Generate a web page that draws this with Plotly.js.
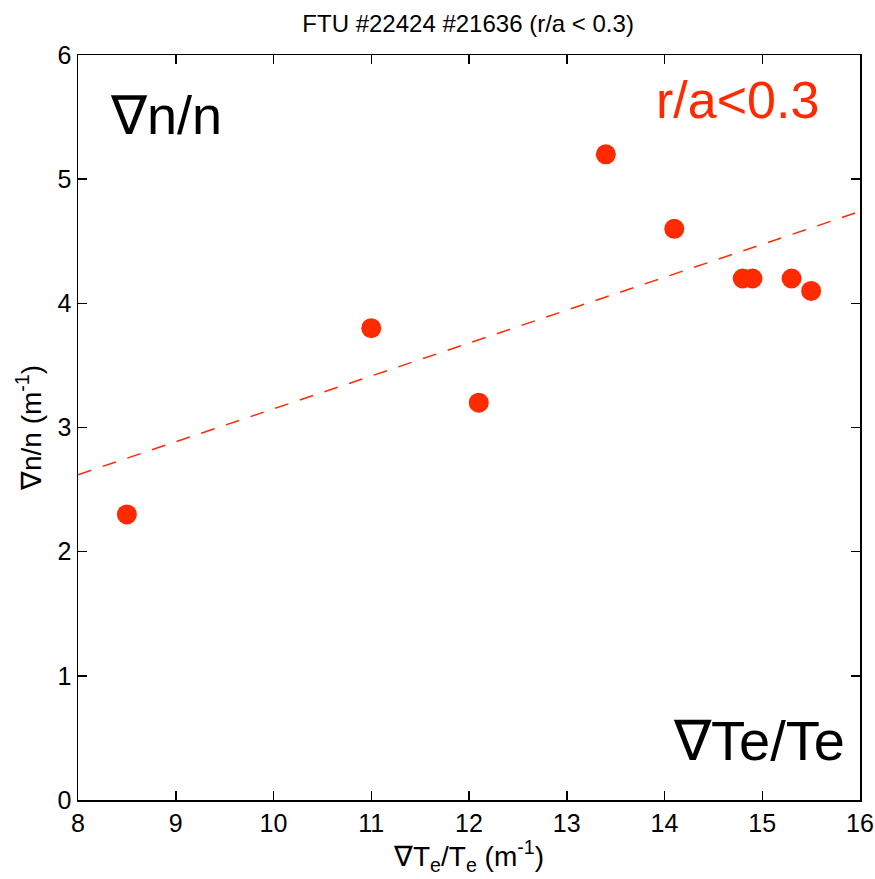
<!DOCTYPE html>
<html>
<head>
<meta charset="utf-8">
<script src="https://cdn.plot.ly/plotly-3.0.1.min.js"></script>
<style>body{margin:0;padding:0;background:#fff;} #chart{width:875px;height:879px;}</style>
</head>
<body>
<div id="chart"></div>
<script>
const gradTe = [8.5, 11, 12.1, 13.4, 14.1, 14.8, 14.9, 15.3, 15.5];
const gradN = [2.3, 3.8, 3.2, 5.2, 4.6, 4.2, 4.2, 4.2, 4.1];
const fitX = [8, 16];
const fitY = [2.62, 4.74];
const xTicks = [8, 9, 10, 11, 12, 13, 14, 15, 16];
const yTicks = [0, 1, 2, 3, 4, 5, 6];
const red = '#ff2a00';
const font = 'Liberation Sans, Arial, sans-serif';

const traces = [
  {x: fitX, y: fitY, mode: 'lines', line: {color: red, width: 1.5, dash: '14px,12px'}, hoverinfo: 'skip', showlegend: false},
  {x: gradTe, y: gradN, mode: 'markers', marker: {color: red, size: 20, line: {width: 0}}, showlegend: false}
];

const axisCommon = {
  showgrid: false, zeroline: false, showline: true, linecolor: '#000', linewidth: 1.5,
  mirror: 'ticks', ticks: 'inside', ticklen: 9, tickwidth: 1.5, tickcolor: '#000',
  tickfont: {family: font, size: 25, color: '#000'}
};

const layout = {
  width: 875, height: 879,
  margin: {l: 78, r: 15, t: 55, b: 79},
  paper_bgcolor: '#fff', plot_bgcolor: '#fff',
  title: {text: 'FTU #22424 #21636 (r/a < 0.3)', font: {family: font, size: 24, color: '#000'}, x: 0.535, xanchor: 'center', y: 0.973, yanchor: 'middle'},
  xaxis: Object.assign({}, axisCommon, {range: [8, 16], tickvals: xTicks, ticktext: xTicks.map(String),
    title: {text: '∇T<sub>e</sub>/T<sub>e</sub> (m<sup>-1</sup>)', font: {family: font, size: 28, color: '#000'}, standoff: 0}}),
  yaxis: Object.assign({}, axisCommon, {range: [0, 6], tickvals: yTicks, ticktext: yTicks.map(String),
    title: {text: '∇n/n (m<sup>-1</sup>)', font: {family: font, size: 28, color: '#000'}, standoff: 8}}),
  annotations: [
    {x: 8.31, y: 5.52, xref: 'x', yref: 'y', text: '∇n/n', showarrow: false, xanchor: 'left', yanchor: 'middle', font: {family: font, size: 54, color: '#000'}},
    {x: 15.6, y: 5.64, xref: 'x', yref: 'y', text: 'r/a<0.3', showarrow: false, xanchor: 'right', yanchor: 'middle', font: {family: font, size: 52, color: red}},
    {x: 15.87, y: 0.48, xref: 'x', yref: 'y', text: '∇Te/Te', showarrow: false, xanchor: 'right', yanchor: 'middle', font: {family: font, size: 56, color: '#000'}}
  ]
};

Plotly.newPlot('chart', traces, layout, {displayModeBar: false, staticPlot: true});
</script>
</body>
</html>
